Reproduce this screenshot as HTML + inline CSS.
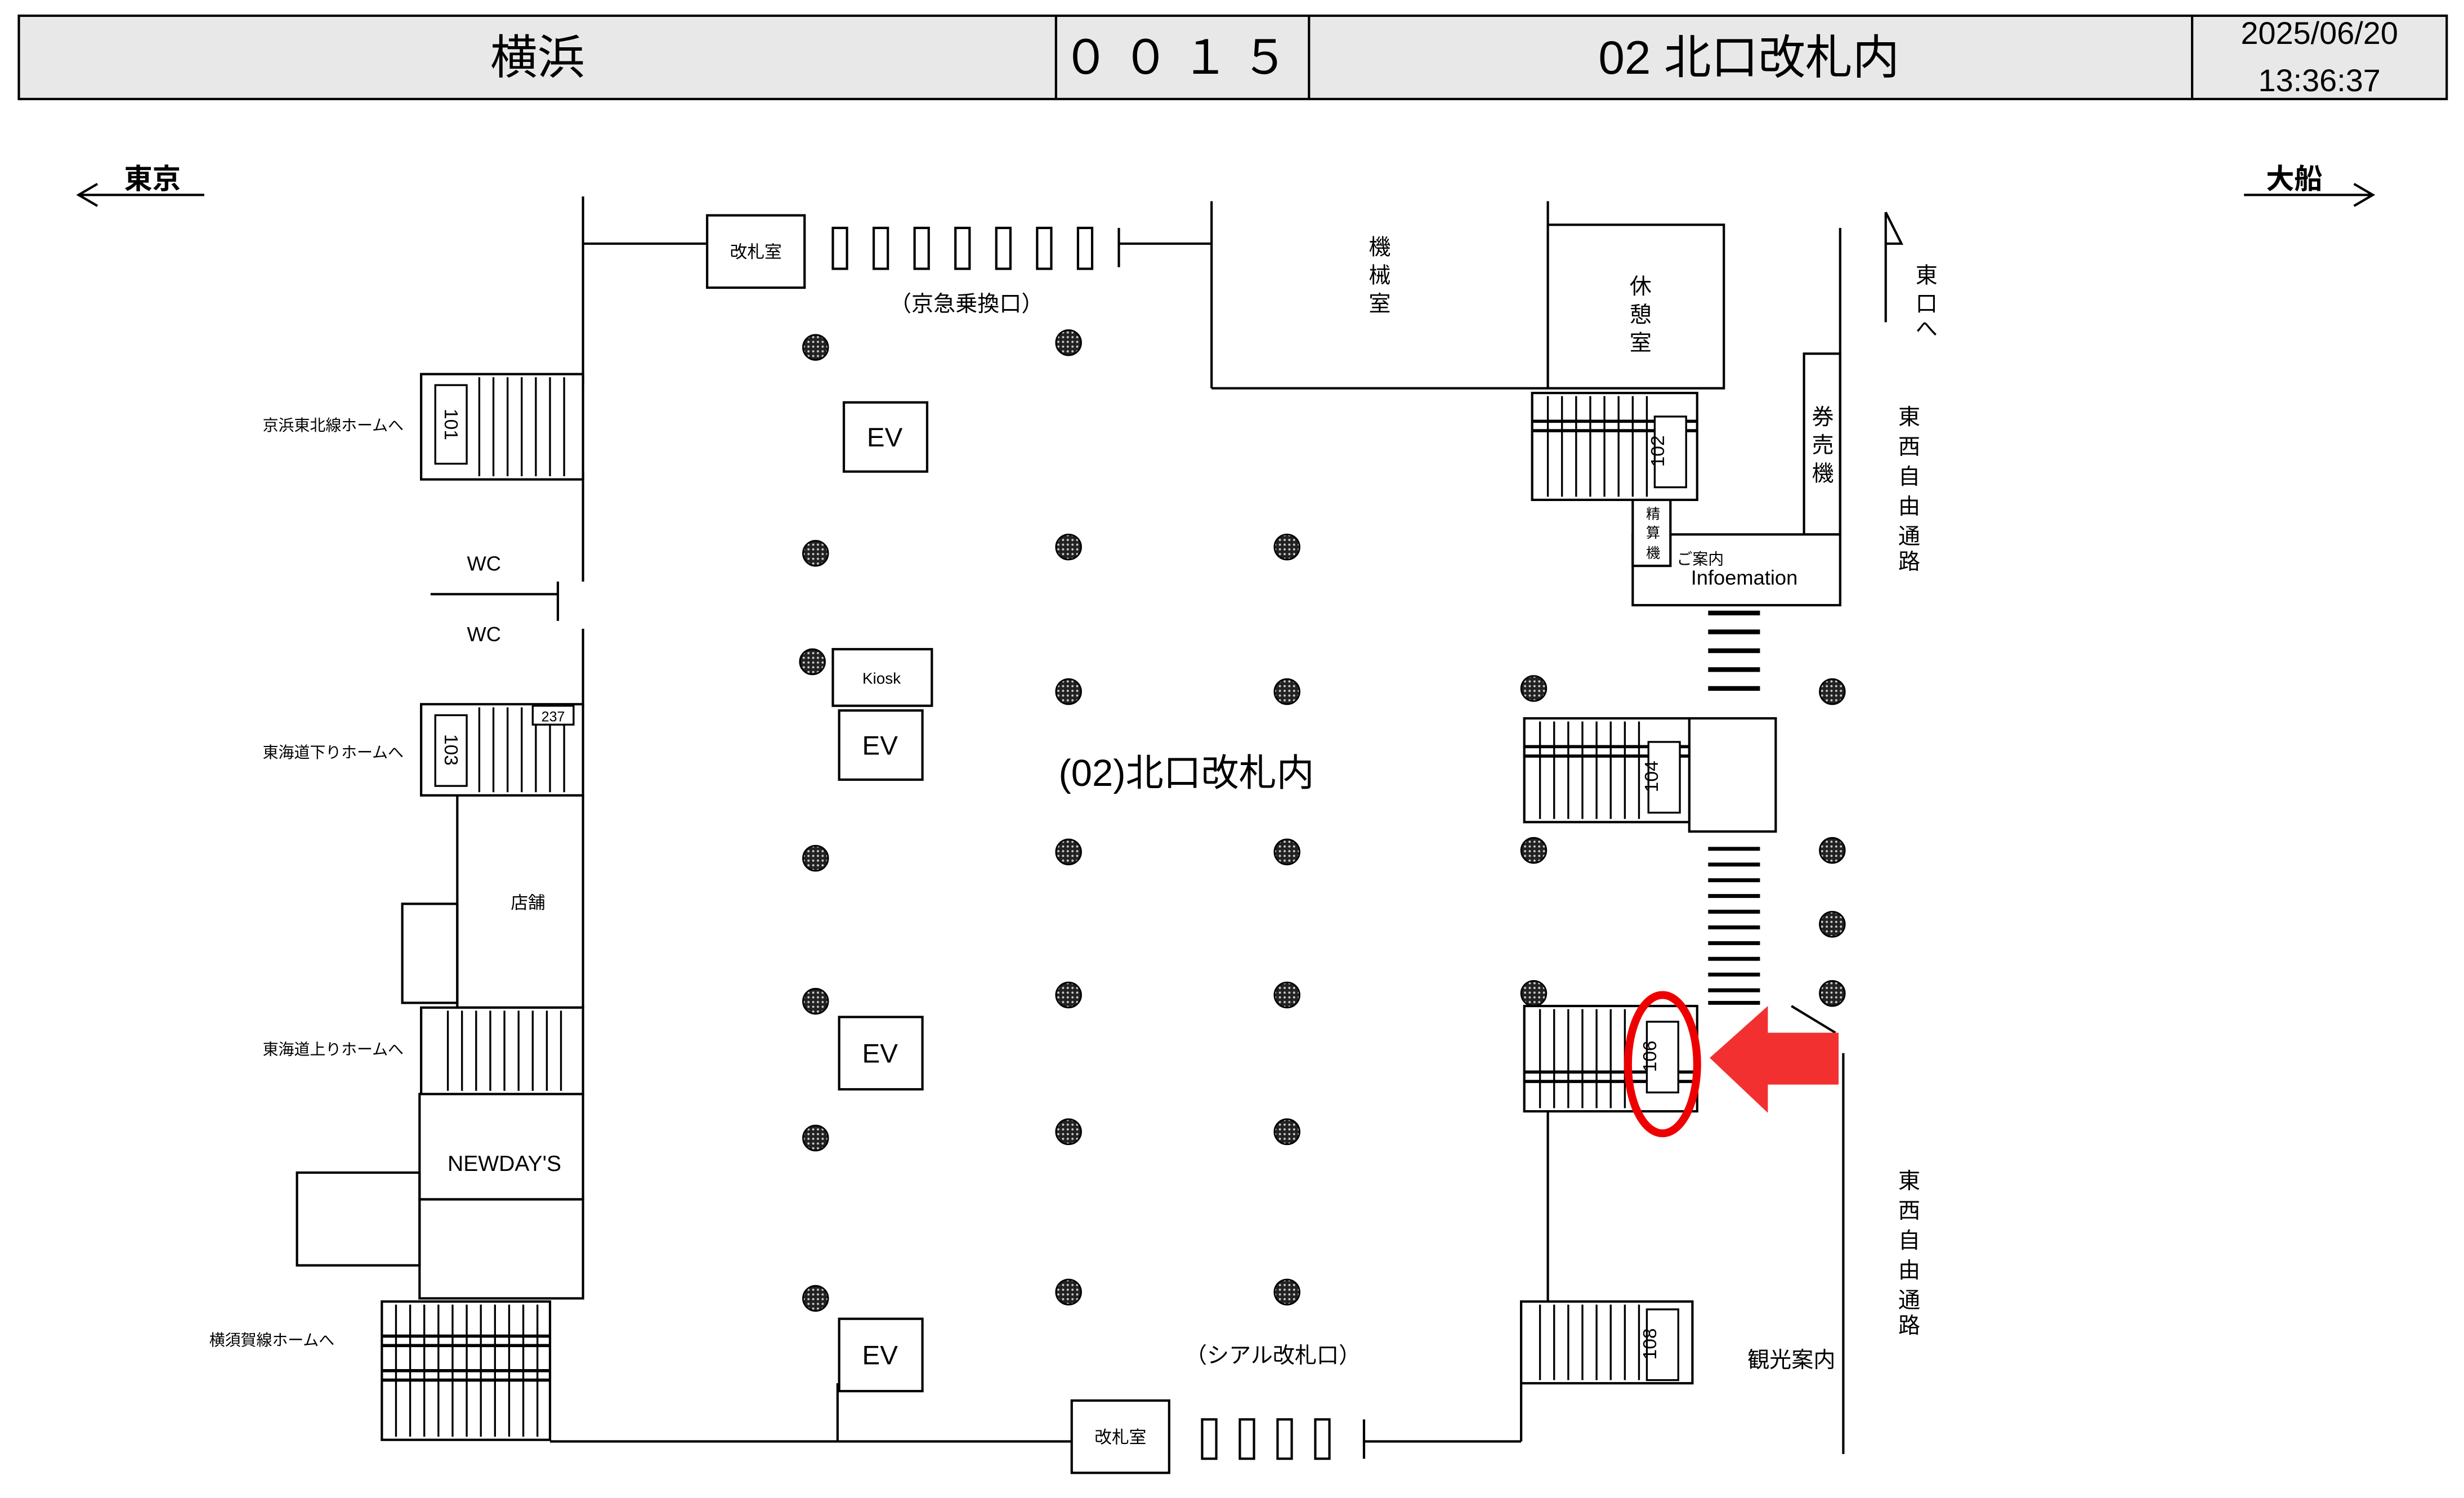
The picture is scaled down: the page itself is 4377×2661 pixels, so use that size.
<!DOCTYPE html>
<html><head><meta charset="utf-8"><style>
html,body{margin:0;padding:0;background:#fff;}
svg{display:block;}
text{font-family:"Liberation Sans","Noto Sans CJK JP",sans-serif;fill:#000;}
</style></head><body>
<svg width="4377" height="2661" viewBox="0 0 1568 953" preserveAspectRatio="none" xmlns="http://www.w3.org/2000/svg">
<defs>
<pattern id="dots" width="3" height="3" patternUnits="userSpaceOnUse"><rect width="3" height="3" fill="#222"/><circle cx="1.5" cy="1.5" r="0.7" fill="#ccc"/></pattern>
</defs>
<g stroke="#000" stroke-width="1.5" fill="none">
<!-- header -->
<rect x="12" y="10" width="1545" height="53" fill="#e8e8e8"/>
<line x1="672" y1="10" x2="672" y2="63"/><line x1="833" y1="10" x2="833" y2="63"/><line x1="1395" y1="10" x2="1395" y2="63"/>
<!-- direction arrows -->
<line x1="50" y1="124" x2="130" y2="124"/><polyline points="62,117 50,124 62,131"/>
<line x1="1428" y1="124" x2="1510" y2="124"/><polyline points="1498,117 1510,124 1498,131"/>
<!-- walls -->
<line x1="371" y1="125" x2="371" y2="245"/>
<line x1="371" y1="300" x2="371" y2="370"/>
<line x1="371" y1="400" x2="371" y2="450"/>
<line x1="371" y1="155" x2="450" y2="155"/>
<rect x="450" y="137" width="62" height="46" fill="#fff"/>
<line x1="712" y1="145" x2="712" y2="170"/><line x1="712" y1="155" x2="771" y2="155"/>
<line x1="771" y1="128" x2="771" y2="247"/><line x1="771" y1="247" x2="985" y2="247"/>
<line x1="985" y1="128" x2="985" y2="143"/>
<rect x="985" y="143" width="112" height="104"/>
<line x1="1171" y1="145" x2="1171" y2="385"/>
<line x1="1200" y1="205" x2="1200" y2="135"/><polyline points="1200,135 1210,155 1200,155"/>
<rect x="1148" y="225" width="23" height="115"/>
<rect x="1039" y="340" width="132" height="45" fill="#fff"/>
<rect x="1039" y="318" width="24" height="42" fill="#fff"/>
<line x1="1140" y1="640" x2="1168" y2="657"/>
<line x1="1173" y1="670" x2="1173" y2="925"/>
<line x1="985" y1="707" x2="985" y2="828"/>
<line x1="868" y1="917" x2="968" y2="917"/><line x1="968" y1="880" x2="968" y2="917"/>
<line x1="868" y1="903" x2="868" y2="928"/>
<rect x="682" y="891" width="62" height="46"/>
<line x1="350" y1="917" x2="682" y2="917"/>
<line x1="533" y1="880" x2="533" y2="917"/>
<!-- WC -->
<line x1="274" y1="378" x2="355" y2="378"/><line x1="355" y1="370" x2="355" y2="395"/>
<!-- left blocks -->
<rect x="291" y="506" width="80" height="135"/>
<rect x="256" y="575" width="35" height="63"/>
<rect x="267" y="696" width="104" height="67"/>
<rect x="267" y="763" width="104" height="63"/>
<rect x="189" y="746" width="78" height="59"/>
<!-- EV & kiosk -->
<rect x="537" y="256" width="53" height="44"/>
<rect x="534" y="452" width="53" height="44"/>
<rect x="534" y="647" width="53" height="46"/>
<rect x="534" y="839" width="53" height="46"/>
<rect x="530" y="413" width="63" height="36"/>
<rect x="1075" y="457" width="55" height="72"/>
</g>
<!-- gates -->
<g stroke="#000" stroke-width="1.5" fill="#fff">
<rect x="530" y="145" width="9" height="26"/><rect x="556" y="145" width="9" height="26"/><rect x="582" y="145" width="9" height="26"/><rect x="608" y="145" width="9" height="26"/><rect x="634" y="145" width="9" height="26"/><rect x="660" y="145" width="9" height="26"/><rect x="686" y="145" width="9" height="26"/>
<rect x="765" y="903" width="9" height="25"/><rect x="789" y="903" width="9" height="25"/><rect x="813" y="903" width="9" height="25"/><rect x="837" y="903" width="9" height="25"/>
</g>
<!-- stairs -->
<g stroke="#000" stroke-width="1.5" fill="#fff">
<g id="s1"><rect x="268" y="238" width="103" height="67"/></g>
<rect x="268" y="448" width="103" height="58"/>
<rect x="268" y="641" width="103" height="55"/>
<rect x="243" y="828" width="107" height="88"/>
<rect x="975" y="250" width="105" height="68"/>
<rect x="970" y="457" width="105" height="66"/>
<rect x="970" y="640" width="110" height="67"/>
<rect x="968" y="828" width="109" height="52"/>
</g>
<g stroke="#000" stroke-width="1.2">
<path d="M305 240V303M314 240V303M323 240V303M332 240V303M341 240V303M350 240V303M359 240V303"/>
<path d="M305 450V504M314 450V504M323 450V504M332 450V504M341 450V504M350 450V504M359 450V504"/>
<path d="M285 643V694M294 643V694M303 643V694M312 643V694M321 643V694M330 643V694M339 643V694M348 643V694M357 643V694"/>
<path d="M252 830V914M261 830V914M270 830V914M279 830V914M288 830V914M297 830V914M306 830V914M315 830V914M324 830V914M333 830V914M342 830V914"/>
<path d="M243 850H350M243 856H350M243 872H350M243 878H350" stroke-width="2"/>
<path d="M985 252V316M994 252V316M1003 252V316M1012 252V316M1021 252V316M1030 252V316M1039 252V316M1048 252V316"/>
<path d="M975 268H1080M975 274H1080" stroke-width="2"/>
<path d="M980 459V521M989 459V521M998 459V521M1007 459V521M1016 459V521M1025 459V521M1034 459V521M1043 459V521"/>
<path d="M970 475H1075M970 481H1075" stroke-width="2"/>
<path d="M980 642V705M989 642V705M998 642V705M1007 642V705M1016 642V705M1025 642V705M1034 642V705"/>
<path d="M970 682H1080M970 688H1080" stroke-width="2"/>
<path d="M980 830V878M989 830V878M998 830V878M1007 830V878M1016 830V878M1025 830V878M1034 830V878M1043 830V878"/>
<!-- dashed escalator bars -->
<path d="M1087 390H1120M1087 402H1120M1087 414H1120M1087 426H1120M1087 438H1120" stroke-width="3"/>
<path d="M1087 540H1120M1087 550H1120M1087 560H1120M1087 570H1120M1087 580H1120M1087 590H1120M1087 600H1120M1087 610H1120M1087 620H1120M1087 630H1120M1087 638H1120" stroke-width="2.5"/>
</g>
<!-- labels boxes -->
<g stroke="#000" stroke-width="1.2" fill="#fff">
<rect x="277" y="245" width="20" height="50"/>
<rect x="277" y="455" width="20" height="45"/>
<rect x="339" y="449" width="26" height="12"/>
<rect x="1053" y="265" width="20" height="45"/>
<rect x="1049" y="472" width="20" height="45"/>
<rect x="1048" y="650" width="20" height="45"/>
<rect x="1048" y="833" width="20" height="45"/>
</g>
<!-- pillars -->
<g fill="url(#dots)" stroke="#000" stroke-width="1">
<circle cx="519" cy="221" r="8"/><circle cx="680" cy="218" r="8"/>
<circle cx="519" cy="352" r="8"/><circle cx="680" cy="348" r="8"/><circle cx="819" cy="348" r="8"/>
<circle cx="517" cy="421" r="8"/><circle cx="680" cy="440" r="8"/><circle cx="819" cy="440" r="8"/><circle cx="976" cy="438" r="8"/><circle cx="1166" cy="440" r="8"/>
<circle cx="519" cy="546" r="8"/><circle cx="680" cy="542" r="8"/><circle cx="819" cy="542" r="8"/><circle cx="976" cy="541" r="8"/><circle cx="1166" cy="541" r="8"/><circle cx="1166" cy="588" r="8"/>
<circle cx="519" cy="637" r="8"/><circle cx="680" cy="633" r="8"/><circle cx="819" cy="633" r="8"/><circle cx="976" cy="632" r="8"/><circle cx="1166" cy="632" r="8"/>
<circle cx="519" cy="724" r="8"/><circle cx="680" cy="720" r="8"/><circle cx="819" cy="720" r="8"/>
<circle cx="519" cy="826" r="8"/><circle cx="680" cy="822" r="8"/><circle cx="819" cy="822" r="8"/>
</g>
<!-- red marker -->
<ellipse cx="1058" cy="677" rx="22" ry="44" fill="none" stroke="#e00" stroke-width="5"/>
<polygon points="1088,673 1125,640 1125,657 1170,657 1170,690 1125,690 1125,708" fill="#f23030"/>
<!-- text -->
<g text-anchor="middle">
<text x="342" y="47" font-size="30">横浜</text>
<text x="752" y="47" font-size="30" letter-spacing="8">００１５</text>
<text x="1113" y="47" font-size="30">02 北口改札内</text>
<text x="1476" y="28" font-size="20">2025/06/20</text>
<text x="1476" y="58" font-size="20">13:36:37</text>
<text x="97" y="120" font-size="18" font-weight="bold">東京</text>
<text x="1460" y="120" font-size="18" font-weight="bold">大船</text>
<text x="481" y="164" font-size="11">改札室</text>
<text x="713" y="918" font-size="11">改札室</text>
<text x="615" y="198" font-size="14">（京急乗換口）</text>
<text x="810" y="867" font-size="14">（シアル改札口）</text>
<text x="1140" y="870" font-size="14">観光案内</text>
<text x="755" y="500" font-size="24">(02)北口改札内</text>
<text x="563" y="284" font-size="17">EV</text>
<text x="560" y="480" font-size="17">EV</text>
<text x="560" y="676" font-size="17">EV</text>
<text x="560" y="868" font-size="17">EV</text>
<text x="561" y="435" font-size="10">Kiosk</text>
<text x="308" y="363" font-size="13">WC</text>
<text x="308" y="408" font-size="13">WC</text>
<text x="336" y="578" font-size="11">店舗</text>
<text x="321" y="745" font-size="14">NEWDAY'S</text>
<text x="352" y="459" font-size="9">237</text>
<text x="212" y="274" font-size="10">京浜東北線ホームへ</text>
<text x="212" y="482" font-size="10">東海道下りホームへ</text>
<text x="212" y="671" font-size="10">東海道上りホームへ</text>
<text x="173" y="856" font-size="10">横須賀線ホームへ</text>
<text x="1082" y="359" font-size="10">ご案内</text>
<text x="1110" y="372" font-size="13">Infoemation</text>
</g>
<g font-size="14" text-anchor="middle">
<text x="878" y="162">機</text><text x="878" y="180">械</text><text x="878" y="198">室</text>
<text x="1044" y="187">休</text><text x="1044" y="205">憩</text><text x="1044" y="223">室</text>
<text x="1160" y="270">券</text><text x="1160" y="288">売</text><text x="1160" y="306">機</text>
<text x="1226" y="180">東</text><text x="1226" y="198">口</text><text x="1226" y="214">へ</text>
<text x="1215" y="270">東</text><text x="1215" y="289">西</text><text x="1215" y="308">自</text><text x="1215" y="327">由</text><text x="1215" y="346">通</text><text x="1215" y="362">路</text>
<text x="1215" y="756">東</text><text x="1215" y="775">西</text><text x="1215" y="794">自</text><text x="1215" y="813">由</text><text x="1215" y="832">通</text><text x="1215" y="848">路</text>
<text x="1052" y="330" font-size="9">精</text><text x="1052" y="342" font-size="9">算</text><text x="1052" y="355" font-size="9">機</text>
</g>
<g font-size="12" text-anchor="middle">
<text transform="translate(283,270) rotate(90)">101</text>
<text transform="translate(283,477) rotate(90)">103</text>
<text transform="translate(1059,287) rotate(-90)">102</text>
<text transform="translate(1055,494) rotate(-90)">104</text>
<text transform="translate(1054,672) rotate(-90)">106</text>
<text transform="translate(1054,855) rotate(-90)">108</text>
</g>
</svg>
</body></html>
